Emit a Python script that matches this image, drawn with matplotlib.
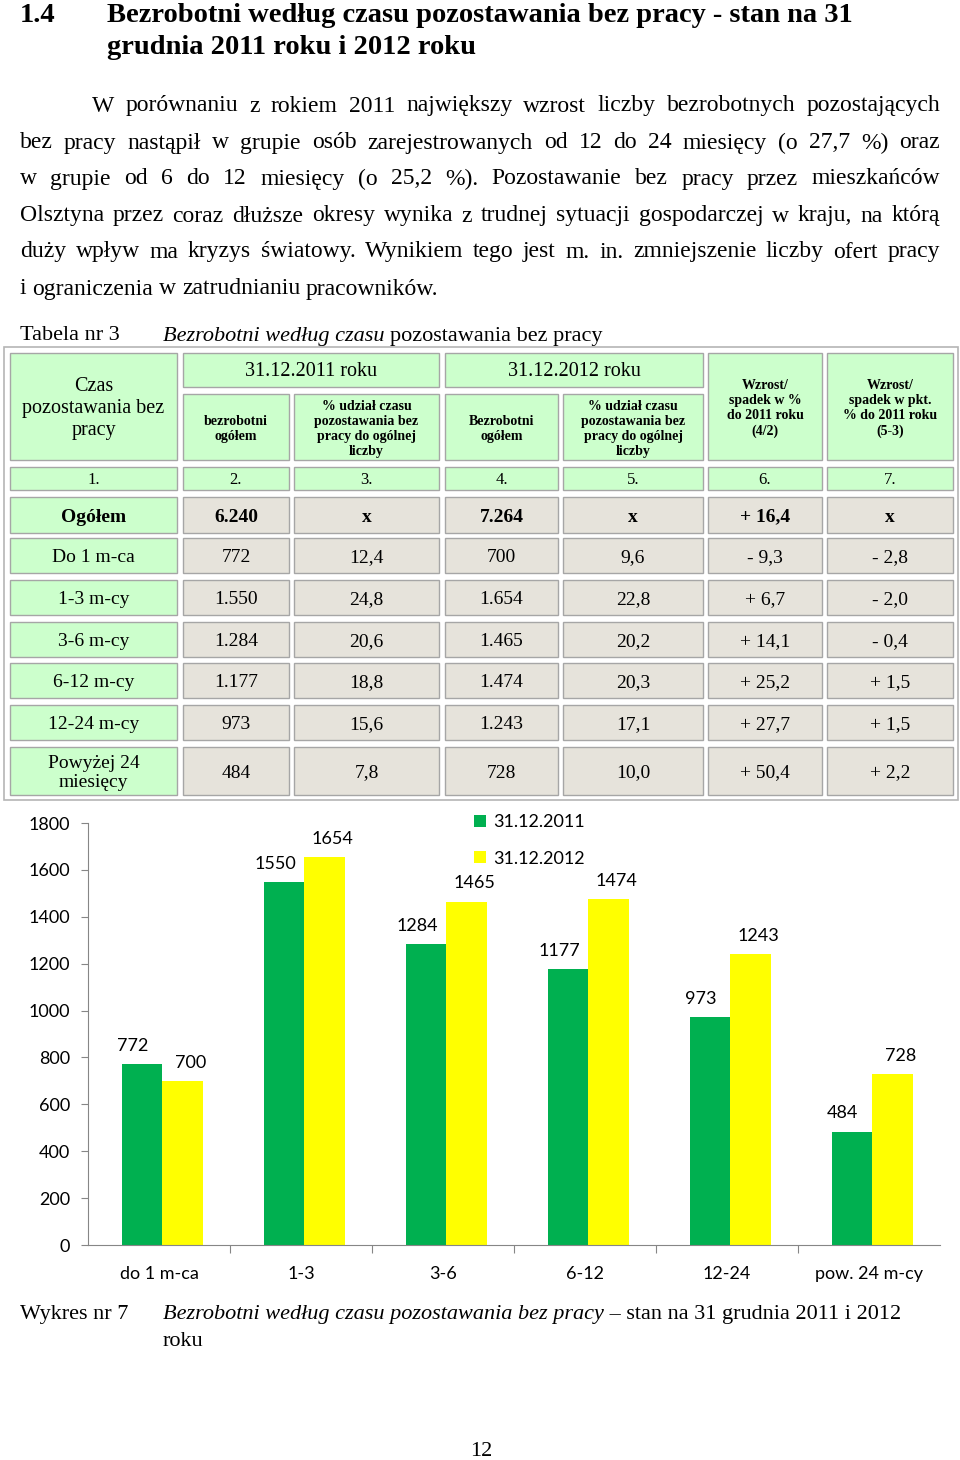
import matplotlib
matplotlib.use("Agg")
import matplotlib.pyplot as plt
from matplotlib.patches import Rectangle
import numpy as np

SERIF = "Liberation Serif"
SANS = "Lato"

# chart data
categories = ["do 1 m-ca", "1-3", "3-6", "6-12", "12-24", "pow. 24 m-cy"]
val_2011 = [772, 1550, 1284, 1177, 973, 484]
val_2012 = [700, 1654, 1465, 1474, 1243, 728]
series_names = ["31.12.2011", "31.12.2012"]
y_ticks = [0, 200, 400, 600, 800, 1000, 1200, 1400, 1600, 1800]

# table data
row_labels = ["Ogółem", "Do 1 m-ca", "1-3 m-cy", "3-6 m-cy", "6-12 m-cy",
              "12-24 m-cy", "Powyżej 24\nmiesięcy"]
col_2011_total = ["6.240", "772", "1.550", "1.284", "1.177", "973", "484"]
col_2011_share = ["x", "12,4", "24,8", "20,6", "18,8", "15,6", "7,8"]
col_2012_total = ["7.264", "700", "1.654", "1.465", "1.474", "1.243", "728"]
col_2012_share = ["x", "9,6", "22,8", "20,2", "20,3", "17,1", "10,0"]
change_pct = ["+ 16,4", "- 9,3", "+ 6,7", "+ 14,1", "+ 25,2", "+ 27,7", "+ 50,4"]
change_pts = ["x", "- 2,8", "- 2,0", "- 0,4", "+ 1,5", "+ 1,5", "+ 2,2"]
col_numbers = ["1.", "2.", "3.", "4.", "5.", "6.", "7."]

heading_lines = ["Bezrobotni według czasu pozostawania bez pracy - stan na 31",
                 "grudnia 2011 roku i 2012 roku"]
para_lines = [
    "W porównaniu z rokiem 2011 największy wzrost liczby bezrobotnych pozostających",
    "bez pracy nastąpił w grupie osób zarejestrowanych od 12 do 24 miesięcy (o 27,7 %) oraz",
    "w grupie od 6 do 12 miesięcy (o 25,2 %). Pozostawanie bez pracy przez mieszkańców",
    "Olsztyna przez coraz dłuższe okresy wynika z trudnej sytuacji gospodarczej w kraju, na którą",
    "duży wpływ ma kryzys światowy. Wynikiem tego jest m. in. zmniejszenie liczby ofert pracy",
    "i ograniczenia w zatrudnianiu pracowników.",
]

GREEN_CELL = "#ccffcc"
GRAY_CELL = "#e6e3db"
EDGE = "#a6a6a6"
DY = 2  # small shift so centred serif text sits like the scan

fig = plt.figure(figsize=(9.6, 14.6), dpi=100)
page = fig.add_axes([0, 0, 1, 1])
page.set_xlim(0, 960)
page.set_ylim(1460, 0)
page.set_axis_off()
renderer = fig.canvas.get_renderer()


def width_of(t):
    return t.get_window_extent(renderer=renderer).width


def put_runs(x, y, runs, size):
    # runs of (text, style) drawn one after another on one line
    for s, style in runs:
        t = page.text(x, y + DY, s, fontsize=size, family=SERIF, style=style,
                      va="center", ha="left")
        x += width_of(t)


def space_width(size):
    a = page.text(0, 0, "a a", fontsize=size, family=SERIF)
    b = page.text(0, 0, "aa", fontsize=size, family=SERIF)
    w = width_of(a) - width_of(b)
    a.remove()
    b.remove()
    return w


def justified(x0, x1, y, line, size, last=False):
    words = line.split(" ")
    texts = [page.text(x0, y + DY, w, fontsize=size, family=SERIF, va="center")
             for w in words]
    widths = [width_of(t) for t in texts]
    if last:
        gap = space_width(size)
    else:
        gap = (x1 - x0 - sum(widths)) / (len(words) - 1)
    x = x0
    for t, w in zip(texts, widths):
        t.set_x(x)
        x += w + gap


# heading
page.text(20, 14 + DY, "1.4", fontsize=20.5, family=SERIF, weight="bold", va="center")
page.text(107, 14 + DY, heading_lines[0], fontsize=20.5, family=SERIF, weight="bold", va="center")
page.text(107, 46 + DY, heading_lines[1], fontsize=20.5, family=SERIF, weight="bold", va="center")

# paragraph
para_y = [104, 141, 177, 214, 250, 287]
for i, (line, y) in enumerate(zip(para_lines, para_y)):
    x0 = 92 if i == 0 else 20
    justified(x0, 940, y, line, 17, last=(i == len(para_lines) - 1))

# table title
page.text(20, 334 + DY, "Tabela nr 3", fontsize=16, family=SERIF, va="center")
put_runs(163, 334, [("Bezrobotni według czasu ", "italic"),
                    ("pozostawania bez pracy", "normal")], 16)

# table
page.add_patch(Rectangle((4, 347), 954, 453, facecolor="white", edgecolor="#b5b5b5", lw=1.2))


def cell(x0, x1, y0, y1, color, text="", size=14, weight="normal", ls=1.2):
    page.add_patch(Rectangle((x0, y0), x1 - x0, y1 - y0, facecolor=color,
                             edgecolor=EDGE, lw=1))
    if text:
        page.text((x0 + x1) / 2, (y0 + y1) / 2 + DY, text, fontsize=size, family=SERIF,
                  weight=weight, ha="center", va="center", linespacing=ls)


cols = [(10, 177), (183, 289), (294, 439), (445, 558), (563, 703), (708, 822), (827, 953)]

cell(*cols[0], 353, 460, GREEN_CELL, "Czas\npozostawania bez\npracy", 14.5, ls=1.22)
cell(cols[1][0], cols[2][1], 353, 387, GREEN_CELL, "31.12.2011 roku", 14.5)
cell(cols[3][0], cols[4][1], 353, 387, GREEN_CELL, "31.12.2012 roku", 14.5)
share_head = "% udział czasu\npozostawania bez\npracy do ogólnej\nliczby"
cell(*cols[1], 394, 460, GREEN_CELL, "bezrobotni\nogółem", 10, "bold")
cell(*cols[2], 394, 460, GREEN_CELL, share_head, 10, "bold")
cell(*cols[3], 394, 460, GREEN_CELL, "Bezrobotni\nogółem", 10, "bold")
cell(*cols[4], 394, 460, GREEN_CELL, share_head, 10, "bold")
cell(*cols[5], 353, 460, GREEN_CELL, "Wzrost/\nspadek w %\ndo 2011 roku\n(4/2)", 10, "bold")
cell(*cols[6], 353, 460, GREEN_CELL, "Wzrost/\nspadek w pkt.\n% do 2011 roku\n(5-3)", 10, "bold")

for c, n in zip(cols, col_numbers):
    cell(*c, 467, 490, GREEN_CELL, n, 12)

row_y = [(497, 533), (538, 573), (580, 615), (622, 657), (663, 698), (705, 740), (747, 795)]
for i, (y0, y1) in enumerate(row_y):
    w = "bold" if i == 0 else "normal"
    vals = [col_2011_total[i], col_2011_share[i], col_2012_total[i],
            col_2012_share[i], change_pct[i], change_pts[i]]
    cell(*cols[0], y0, y1, GREEN_CELL, row_labels[i], 14, w, ls=1.15)
    for c, v in zip(cols[1:], vals):
        cell(*c, y0, y1, GRAY_CELL, v, 14, w)

# bar chart
ax = fig.add_axes([88 / 960, 1 - 1245 / 1460, 852 / 960, 422 / 1460])
x = np.arange(len(categories))
bw = 0.285
ax.bar(x - 0.12, val_2011, bw, color="#00b050", label=series_names[0])
ax.bar(x + 0.165, val_2012, bw, color="#ffff00", label=series_names[1])
for xi, v in zip(x, val_2011):
    ax.annotate(str(v), (xi - 0.12, v), xytext=(-6.5, 13), textcoords="offset points",
                ha="center", va="center", fontsize=13, family=SANS)
for xi, v in zip(x, val_2012):
    ax.annotate(str(v), (xi + 0.165, v), xytext=(6, 13), textcoords="offset points",
                ha="center", va="center", fontsize=13, family=SANS)

ax.set_xlim(-0.5, 5.5)
ax.set_ylim(0, 1800)
for s in ["top", "right"]:
    ax.spines[s].set_visible(False)
for s in ["left", "bottom"]:
    ax.spines[s].set_color("#868686")
ax.set_yticks(y_ticks)
ax.set_yticklabels([str(v) for v in y_ticks], family=SANS, fontsize=13)
ax.tick_params(axis="y", length=5, color="#868686", pad=8)
ax.set_xticks(np.arange(0.5, 5.0, 1.0))
ax.set_xticklabels([])
ax.tick_params(axis="x", which="major", length=6, color="#868686")
ax.set_xticks(x, minor=True)
ax.set_xticklabels(categories, minor=True, family=SANS, fontsize=13)
ax.tick_params(axis="x", which="minor", length=0, pad=15)
ax.legend(loc="upper left", bbox_to_anchor=(474 / 960, 1 - 814 / 1460),
          bbox_transform=fig.transFigure, frameon=False, prop={"family": SANS, "size": 13},
          handlelength=0.65, handleheight=0.65, handletextpad=0.4, labelspacing=1.15,
          borderpad=0, borderaxespad=0)

# caption
page.text(20, 1313 + DY, "Wykres nr 7", fontsize=16, family=SERIF, va="center")
put_runs(163, 1313, [("Bezrobotni według czasu pozostawania bez pracy", "italic"),
                     (" – stan na 31 grudnia 2011 i 2012", "normal")], 16)
page.text(163, 1339 + DY, "roku", fontsize=16, family=SERIF, va="center")
page.text(481, 1449 + DY, "12", fontsize=16, family=SERIF, va="center", ha="center")

fig.savefig("out.png", dpi=100)
